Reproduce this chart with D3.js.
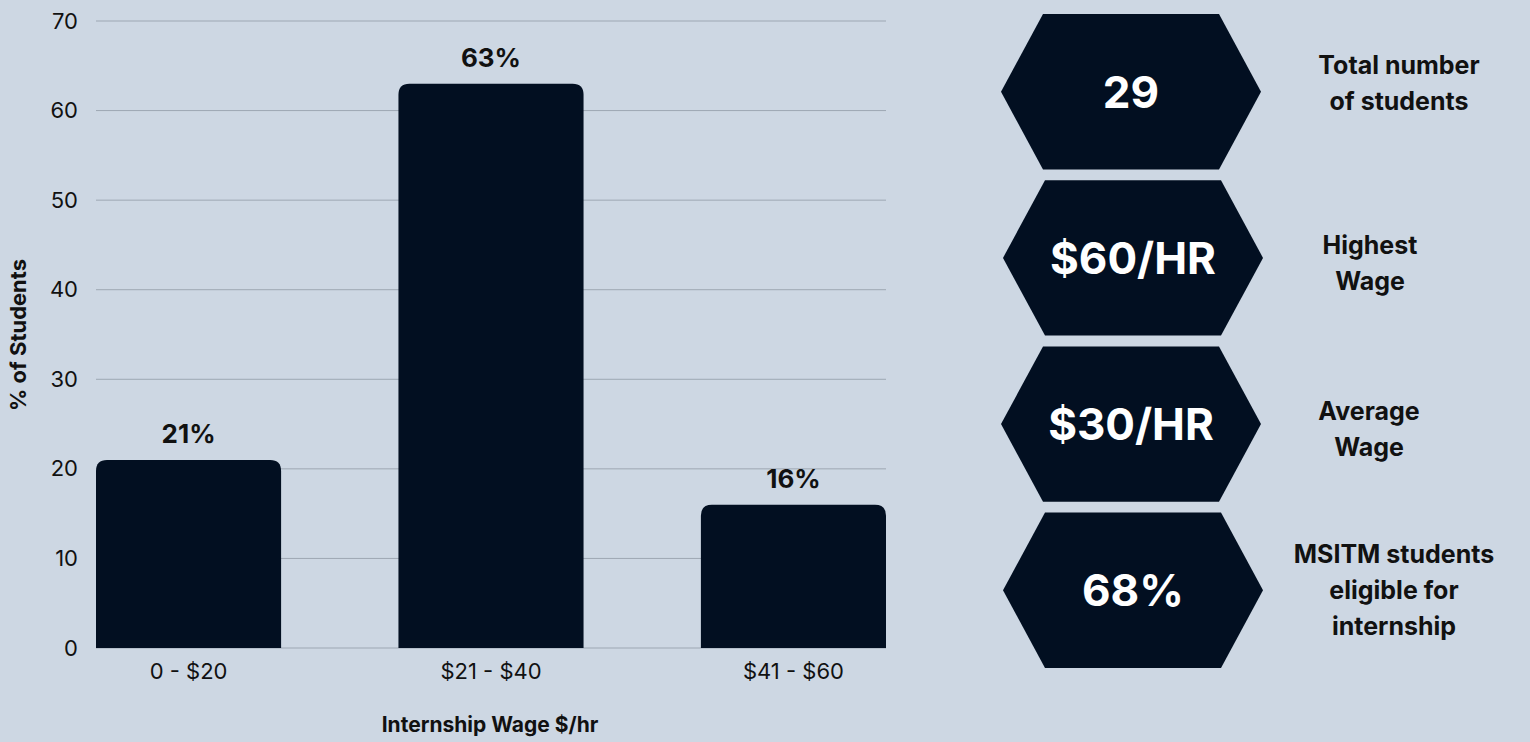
<!DOCTYPE html>
<html><head><meta charset="utf-8">
<script src="https://cdn.jsdelivr.net/npm/d3@7"></script>
<style>
html,body{margin:0;padding:0;background:#cdd7e3;}
svg{display:block;font-family:Inter, "Noto Sans", sans-serif;}
</style></head>
<body><svg id="c" width="1530" height="742"></svg>
<script>
const categories = ["0 - $20", "$21 - $40", "$41 - $60"];
const values = [21, 63, 16];
const yTicks = [0, 10, 20, 30, 40, 50, 60, 70];
const metricValues = ["29", "$60/HR", "$30/HR", "68%"];
const metricLabels = [["Total number", "of students"], ["Highest", "Wage"], ["Average", "Wage"], ["MSITM students", "eligible for", "internship"]];

const svg = d3.select("#c");
const barColor = "#020f21";
const x = d3.scaleBand().domain(categories).range([96, 886]).paddingInner(0.388).paddingOuter(0);
const y = d3.scaleLinear().domain([0, 70]).range([648, 21]);

// gridlines
svg.append("g").selectAll("line").data(yTicks).join("line")
  .attr("x1", 96).attr("x2", 886)
  .attr("y1", d => y(d)).attr("y2", d => y(d))
  .attr("stroke", "#9da7b3").attr("stroke-width", 1);

// y axis labels
const yAxis = svg.append("g").attr("transform", "translate(78,0)")
  .call(d3.axisLeft(y).tickValues(yTicks).tickSize(0).tickPadding(0));
yAxis.select(".domain").remove();
yAxis.selectAll("text").attr("font-size", 22).attr("fill", "#111").attr("font-family", "Inter");

// x axis labels
const xAxis = svg.append("g").attr("transform", "translate(0,648)")
  .call(d3.axisBottom(x).tickSize(0).tickPadding(15));
xAxis.select(".domain").remove();
xAxis.selectAll("text").attr("font-size", 22).attr("fill", "#111").attr("font-family", "Inter");

// bars with rounded top corners
const r = 11;
function barPath(x0, y0, w, h) {
  const rr = Math.min(r, h);
  return `M${x0},${y0 + h}V${y0 + rr}Q${x0},${y0} ${x0 + rr},${y0}H${x0 + w - rr}Q${x0 + w},${y0} ${x0 + w},${y0 + rr}V${y0 + h}Z`;
}
svg.append("g").selectAll("path").data(values).join("path")
  .attr("d", (d, i) => barPath(x(categories[i]), y(d), x.bandwidth(), y(0) - y(d)))
  .attr("fill", barColor);

svg.append("g").selectAll("text").data(values).join("text")
  .attr("x", (d, i) => x(categories[i]) + x.bandwidth() / 2)
  .attr("y", d => y(d) - 17)
  .attr("text-anchor", "middle").attr("font-size", 26).attr("font-weight", 700).attr("fill", "#111")
  .text(d => d + "%");

// axis titles
svg.append("text").attr("transform", "translate(26,335) rotate(-90)")
  .attr("text-anchor", "middle").attr("font-size", 22).attr("font-weight", 700).attr("fill", "#111")
  .text("% of Students");
svg.append("text").attr("x", 490).attr("y", 732)
  .attr("text-anchor", "middle").attr("font-size", 21).attr("font-weight", 700).attr("fill", "#111")
  .text("Internship Wage $/hr");

// hexagons
const hy = d3.scaleBand().domain(d3.range(metricValues.length)).range([14, 668]).paddingInner(0.065).paddingOuter(0);
const hexX0 = 1001, hexX1 = 1261, inset = 42;
const hexLine = d3.line();
const labelShift = [0, 14, 13.5, 9];
const labelCx = [1399, 1370, 1369, 1394];
const g = svg.append("g");
metricValues.forEach((v, i) => {
  const t = hy(i), h = hy.bandwidth(), b = t + h, m = t + h / 2;
  const dx = (i % 2) ? 2 : 0;
  g.append("path").attr("d", hexLine([[hexX0 + dx, m], [hexX0 + inset + dx, t], [hexX1 - inset + dx, t], [hexX1 + dx, m], [hexX1 - inset + dx, b], [hexX0 + inset + dx, b]]) + "Z")
    .attr("fill", barColor);
  g.append("text").attr("x", (hexX0 + hexX1) / 2 + dx).attr("y", m + 16)
    .attr("text-anchor", "middle").attr("font-size", 44).attr("font-weight", 700).attr("fill", "#fff")
    .text(v);
  const lines = metricLabels[i];
  const lh = 36;
  lines.forEach((ln, j) => {
    g.append("text").attr("x", labelCx[i]).attr("y", m + labelShift[i] + (j - (lines.length - 1) / 2) * lh)
      .attr("text-anchor", "middle").attr("font-size", 25).attr("font-weight", 700).attr("fill", "#111")
      .text(ln);
  });
});
</script>
</body></html>
